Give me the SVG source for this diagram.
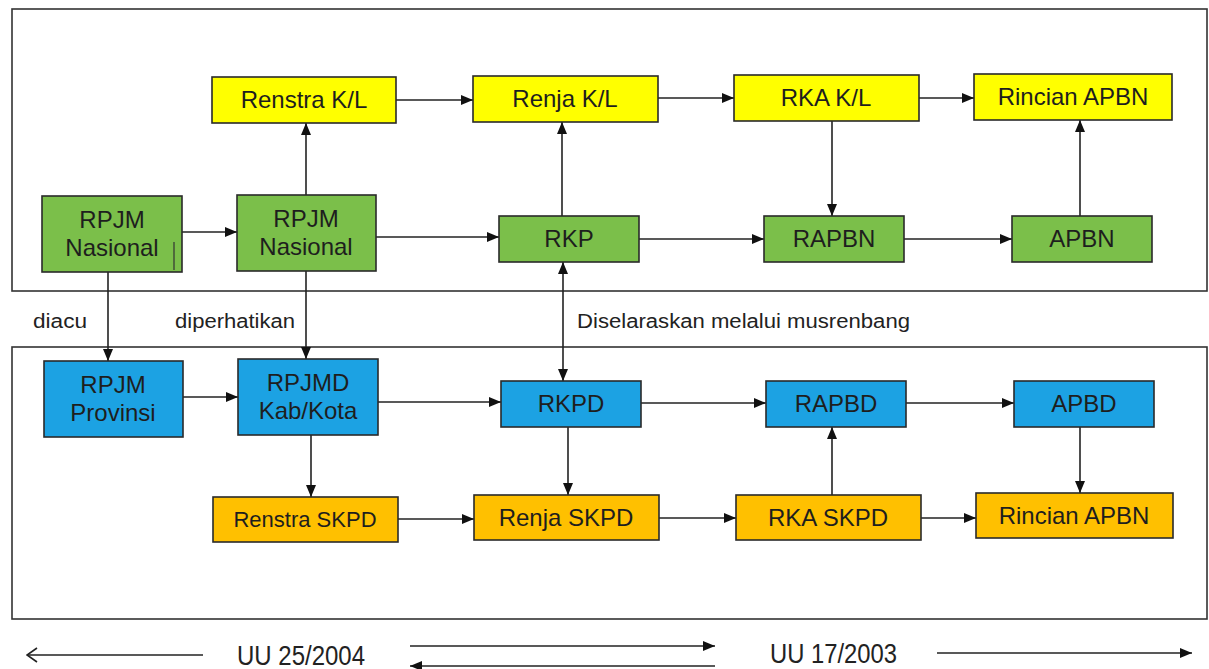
<svg xmlns="http://www.w3.org/2000/svg" width="1209" height="669" viewBox="0 0 1209 669">
<defs>
<style>
.frame{fill:none;stroke:#333;stroke-width:1.6}
.box{stroke:#2a2a2a;stroke-width:1.6}
.y{fill:#FFFF00}
.g{fill:#7BBF4A}
.b{fill:#1CA2E3}
.o{fill:#FFC000}
.t{font-family:"Liberation Sans",Arial,sans-serif;font-size:24px;fill:#1e1e1e;text-anchor:middle}
.lbl{font-family:"Liberation Sans",Arial,sans-serif;font-size:20px;fill:#222}
.law{font-family:"Liberation Sans",Arial,sans-serif;font-size:27px;fill:#222}
.c line{stroke:#222;stroke-width:1.6;fill:none}
</style>
<marker id="ah" viewBox="0 0 12 10" refX="12" refY="5" markerWidth="12" markerHeight="10" markerUnits="userSpaceOnUse" orient="auto-start-reverse">
<path d="M0,0 L12,5 L0,10 Z" fill="#111"/>
</marker>
<marker id="open" viewBox="0 0 12 16" refX="11" refY="8" markerWidth="12" markerHeight="16" markerUnits="userSpaceOnUse" orient="auto">
<path d="M1,1 L11,8 L1,15" fill="none" stroke="#222" stroke-width="1.6"/>
</marker>
</defs>
<rect width="1209" height="669" fill="#fff"/>
<g id="frames">
<rect class="frame" x="12" y="9" width="1195" height="282"/>
<rect class="frame" x="12" y="347" width="1195" height="272"/>
</g>
<g id="connectors" class="c">
<line x1="182" y1="232" x2="237" y2="232" marker-end="url(#ah)"/>
<line x1="306" y1="195" x2="306" y2="123" marker-end="url(#ah)"/>
<line x1="396" y1="100" x2="473" y2="100" marker-end="url(#ah)"/>
<line x1="658" y1="98" x2="734" y2="98" marker-end="url(#ah)"/>
<line x1="919" y1="98" x2="974" y2="98" marker-end="url(#ah)"/>
<line x1="376" y1="237" x2="499" y2="237" marker-end="url(#ah)"/>
<line x1="562" y1="216" x2="562" y2="122" marker-end="url(#ah)"/>
<line x1="639" y1="239" x2="764" y2="239" marker-end="url(#ah)"/>
<line x1="832" y1="121" x2="832" y2="216" marker-end="url(#ah)"/>
<line x1="904" y1="239" x2="1012" y2="239" marker-end="url(#ah)"/>
<line x1="1080" y1="216" x2="1080" y2="120" marker-end="url(#ah)"/>
<line x1="108" y1="272" x2="108" y2="361" marker-end="url(#ah)"/>
<line x1="306" y1="271" x2="306" y2="359" marker-end="url(#ah)"/>
<line x1="563" y1="262" x2="563" y2="381" marker-start="url(#ah)" marker-end="url(#ah)"/>
<line x1="183" y1="397" x2="238" y2="397" marker-end="url(#ah)"/>
<line x1="378" y1="402" x2="501" y2="402" marker-end="url(#ah)"/>
<line x1="641" y1="403" x2="766" y2="403" marker-end="url(#ah)"/>
<line x1="906" y1="403" x2="1014" y2="403" marker-end="url(#ah)"/>
<line x1="311" y1="435" x2="311" y2="497" marker-end="url(#ah)"/>
<line x1="568" y1="427" x2="568" y2="495" marker-end="url(#ah)"/>
<line x1="398" y1="519" x2="474" y2="519" marker-end="url(#ah)"/>
<line x1="659" y1="518" x2="736" y2="518" marker-end="url(#ah)"/>
<line x1="832" y1="495" x2="832" y2="427" marker-end="url(#ah)"/>
<line x1="921" y1="518" x2="976" y2="518" marker-end="url(#ah)"/>
<line x1="1080" y1="427" x2="1080" y2="493" marker-end="url(#ah)"/>
<line x1="203" y1="655" x2="27" y2="655" marker-end="url(#open)"/>
<line x1="410" y1="646" x2="715" y2="646" marker-end="url(#ah)"/>
<line x1="715" y1="666" x2="410" y2="666" marker-end="url(#ah)"/>
<line x1="937" y1="653" x2="1192" y2="653" marker-end="url(#ah)"/>
</g>
<g id="renstra-kl"><rect class="box y" x="212" y="77" width="184" height="46"/><text class="t" x="304" y="108">Renstra K/L</text></g>
<g id="renja-kl"><rect class="box y" x="473" y="76" width="185" height="46"/><text class="t" x="565" y="107">Renja K/L</text></g>
<g id="rka-kl"><rect class="box y" x="734" y="75" width="185" height="46"/><text class="t" x="826" y="106">RKA K/L</text></g>
<g id="rincian-apbn-1"><rect class="box y" x="974" y="74" width="198" height="46"/><text class="t" x="1073" y="105">Rincian APBN</text></g>
<g id="rpjm-nasional-1"><rect class="box g" x="42" y="196" width="140" height="76"/><text class="t" x="112" y="228">RPJM</text><text class="t" x="112" y="256">Nasional</text><line x1="174" y1="242" x2="174" y2="270" stroke="#333" stroke-width="1.2"/></g>
<g id="rpjm-nasional-2"><rect class="box g" x="237" y="195" width="139" height="76"/><text class="t" x="306" y="227">RPJM</text><text class="t" x="306" y="255">Nasional</text></g>
<g id="rkp"><rect class="box g" x="499" y="216" width="140" height="46"/><text class="t" x="569" y="247">RKP</text></g>
<g id="rapbn"><rect class="box g" x="764" y="216" width="140" height="46"/><text class="t" x="834" y="247">RAPBN</text></g>
<g id="apbn"><rect class="box g" x="1012" y="216" width="140" height="46"/><text class="t" x="1082" y="247">APBN</text></g>
<g id="rpjm-provinsi"><rect class="box b" x="44" y="361" width="139" height="76"/><text class="t" x="113" y="393">RPJM</text><text class="t" x="113" y="421">Provinsi</text></g>
<g id="rpjmd"><rect class="box b" x="238" y="359" width="140" height="76"/><text class="t" x="308" y="391">RPJMD</text><text class="t" x="308" y="419">Kab/Kota</text></g>
<g id="rkpd"><rect class="box b" x="501" y="381" width="140" height="46"/><text class="t" x="571" y="412">RKPD</text></g>
<g id="rapbd"><rect class="box b" x="766" y="381" width="140" height="46"/><text class="t" x="836" y="412">RAPBD</text></g>
<g id="apbd"><rect class="box b" x="1014" y="381" width="140" height="46"/><text class="t" x="1084" y="412">APBD</text></g>
<g id="renstra-skpd"><rect class="box o" x="213" y="497" width="185" height="45"/><text class="t" x="305" y="527" style="font-size:22px">Renstra SKPD</text></g>
<g id="renja-skpd"><rect class="box o" x="474" y="495" width="185" height="45"/><text class="t" x="566" y="526">Renja SKPD</text></g>
<g id="rka-skpd"><rect class="box o" x="736" y="495" width="185" height="45"/><text class="t" x="828" y="526">RKA SKPD</text></g>
<g id="rincian-apbn-2"><rect class="box o" x="976" y="493" width="197" height="45"/><text class="t" x="1074" y="524">Rincian APBN</text></g>
<g id="labels">
<text class="lbl" x="33" y="328" textLength="54" lengthAdjust="spacingAndGlyphs">diacu</text>
<text class="lbl" x="175" y="328" textLength="120" lengthAdjust="spacingAndGlyphs">diperhatikan</text>
<text class="lbl" x="577" y="328" textLength="333" lengthAdjust="spacingAndGlyphs">Diselaraskan melalui musrenbang</text>
<text class="law" x="237" y="665" textLength="128" lengthAdjust="spacingAndGlyphs">UU 25/2004</text>
<text class="law" x="770" y="663" textLength="127" lengthAdjust="spacingAndGlyphs">UU 17/2003</text>
</g>
</svg>
